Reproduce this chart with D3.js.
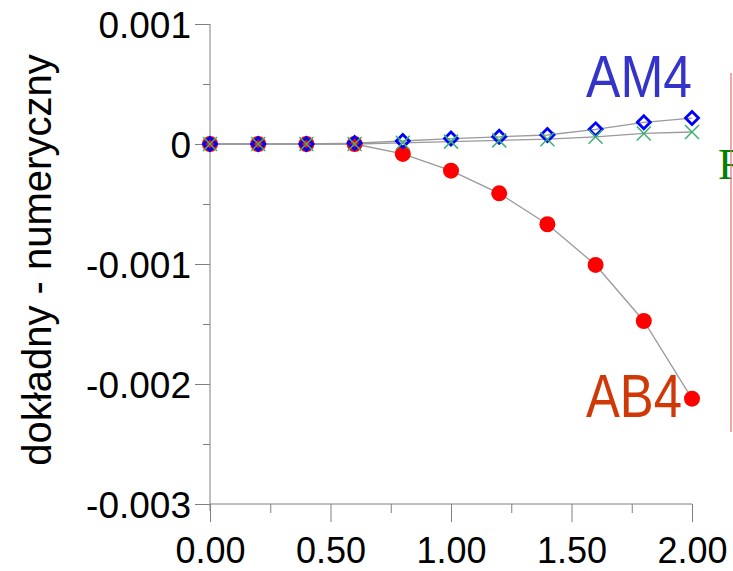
<!DOCTYPE html>
<html>
<head>
<meta charset="utf-8">
<script src="https://cdn.jsdelivr.net/npm/d3@7"></script>
<style>
  body { margin: 0; background: #fff; }
  svg { display: block; font-family: "Liberation Sans", Arial, sans-serif; }
</style>
</head>
<body>
<svg width="733" height="571"></svg>
<script>
// data
var xValues = [0, 0.2, 0.4, 0.6, 0.8, 1.0, 1.2, 1.4, 1.6, 1.8, 2.0];
var ab4 = [0, 0, 0, 0, -0.000083, -0.000222, -0.000411, -0.000669, -0.001008, -0.001475, -0.002122];
var am4 = [0, 0, 0, 0.000008, 0.000025, 0.000045, 0.00006, 0.000075, 0.000122, 0.000181, 0.000216];
var rk4 = [0, 0, 0, 0, 0.00001, 0.00002, 0.00003, 0.00004, 0.00006, 0.000088, 0.0001];
var yTicks = [0.001, 0, -0.001, -0.002, -0.003];
var yMinor = [0.0005, -0.0005, -0.0015, -0.0025];
var xTicks = [0, 0.5, 1.0, 1.5, 2.0];
var xMinor = [0.25, 0.75, 1.25, 1.75];

var svg = d3.select("svg"),
    plotLeft = 210, plotRight = 692, plotTop = 24, plotBottom = 504;

var x = d3.scaleLinear().domain([0, 2]).range([plotLeft, plotRight]);
var y = d3.scaleLinear().domain([-0.003, 0.001]).range([plotBottom, plotTop]);

var axisColor = "#808080";

function yFmt(d) { return d === 0 ? "0" : (d < 0 ? "-" : "") + Math.abs(d).toFixed(3); }

// y axis
var gy = svg.append("g").attr("transform", "translate(" + plotLeft + ",0)");
gy.call(d3.axisLeft(y).tickValues(yTicks).tickFormat(yFmt).tickSize(15).tickSizeOuter(0).tickPadding(4));
gy.append("g").call(d3.axisLeft(y).tickValues(yMinor).tickFormat("").tickSize(7).tickSizeOuter(0));
gy.selectAll(".domain").remove();
gy.selectAll("line").attr("stroke", axisColor);
gy.selectAll("text").attr("fill", "#000").style("font-size", "37px").attr("dy", "0.36em");
svg.append("line").attr("x1", plotLeft).attr("x2", plotLeft).attr("y1", plotTop).attr("y2", plotBottom + 7)
  .attr("stroke", axisColor);

// x axis
var gx = svg.append("g").attr("transform", "translate(0," + plotBottom + ")");
gx.call(d3.axisBottom(x).tickValues(xTicks).tickFormat(d3.format(".2f")).tickSize(18).tickSizeOuter(0).tickPadding(15));
gx.append("g").call(d3.axisBottom(x).tickValues(xMinor).tickFormat("").tickSize(9).tickSizeOuter(0));
gx.selectAll(".domain").remove();
gx.selectAll("line").attr("stroke", axisColor);
gx.selectAll("text").attr("fill", "#000").style("font-size", "36px");
svg.append("line").attr("x1", plotLeft).attr("x2", plotRight).attr("y1", plotBottom).attr("y2", plotBottom)
  .attr("stroke", axisColor);

// y title
svg.append("text")
  .attr("transform", "translate(51,260) rotate(-90)")
  .attr("text-anchor", "middle")
  .style("font-size", "40px")
  .text("dokładny - numeryczny");

// series lines
var line = d3.line().x(function(d) { return x(d[0]); }).y(function(d) { return y(d[1]); });
[ab4, am4, rk4].forEach(function(s) {
  svg.append("path")
    .attr("d", line(d3.zip(xValues, s)))
    .attr("fill", "none")
    .attr("stroke", "#9a9a9a")
    .attr("stroke-width", 1.3);
});

// AB4 markers
svg.selectAll(".ab4").data(d3.zip(xValues, ab4)).enter().append("circle")
  .attr("class", "ab4")
  .attr("cx", function(d) { return x(d[0]); })
  .attr("cy", function(d) { return y(d[1]); })
  .attr("r", 8)
  .attr("fill", "#ff0000");

// AM4 markers
svg.selectAll(".am4").data(d3.zip(xValues, am4)).enter().append("path")
  .attr("class", "am4")
  .attr("transform", function(d) { return "translate(" + x(d[0]) + "," + y(d[1]) + ")"; })
  .attr("d", "M0,-6.5L6.5,0L0,6.5L-6.5,0Z")
  .attr("fill", "none")
  .attr("stroke", "#0000ff")
  .attr("stroke-width", 2.8);

// RK4 markers
svg.selectAll(".rk4").data(d3.zip(xValues, rk4)).enter().append("path")
  .attr("class", "rk4")
  .attr("transform", function(d) { return "translate(" + x(d[0]) + "," + y(d[1]) + ")"; })
  .attr("d", "M-7,-7L7,7M-7,7L7,-7")
  .attr("fill", "none")
  .attr("stroke", "#3cb371")
  .attr("stroke-width", 1.5);

// series labels
svg.append("text").attr("x", 586).attr("y", 97)
  .attr("textLength", 106).attr("lengthAdjust", "spacingAndGlyphs")
  .style("font-size", "60px").attr("fill", "#3434c8").text("AM4");
svg.append("text").attr("x", 586).attr("y", 417)
  .attr("textLength", 96).attr("lengthAdjust", "spacingAndGlyphs")
  .style("font-size", "61px").attr("fill", "#d03808").text("AB4");
svg.append("text").attr("x", 718).attr("y", 179)
  .style("font-family", "'Liberation Serif', 'Times New Roman', serif")
  .style("font-size", "44px").attr("fill", "#008000").text("RK4");

// red marker line on the right
svg.append("line").attr("x1", 731).attr("x2", 731).attr("y1", 73).attr("y2", 432)
  .attr("stroke", "#e86a6a").attr("stroke-width", 1.2);
</script>
</body>
</html>
